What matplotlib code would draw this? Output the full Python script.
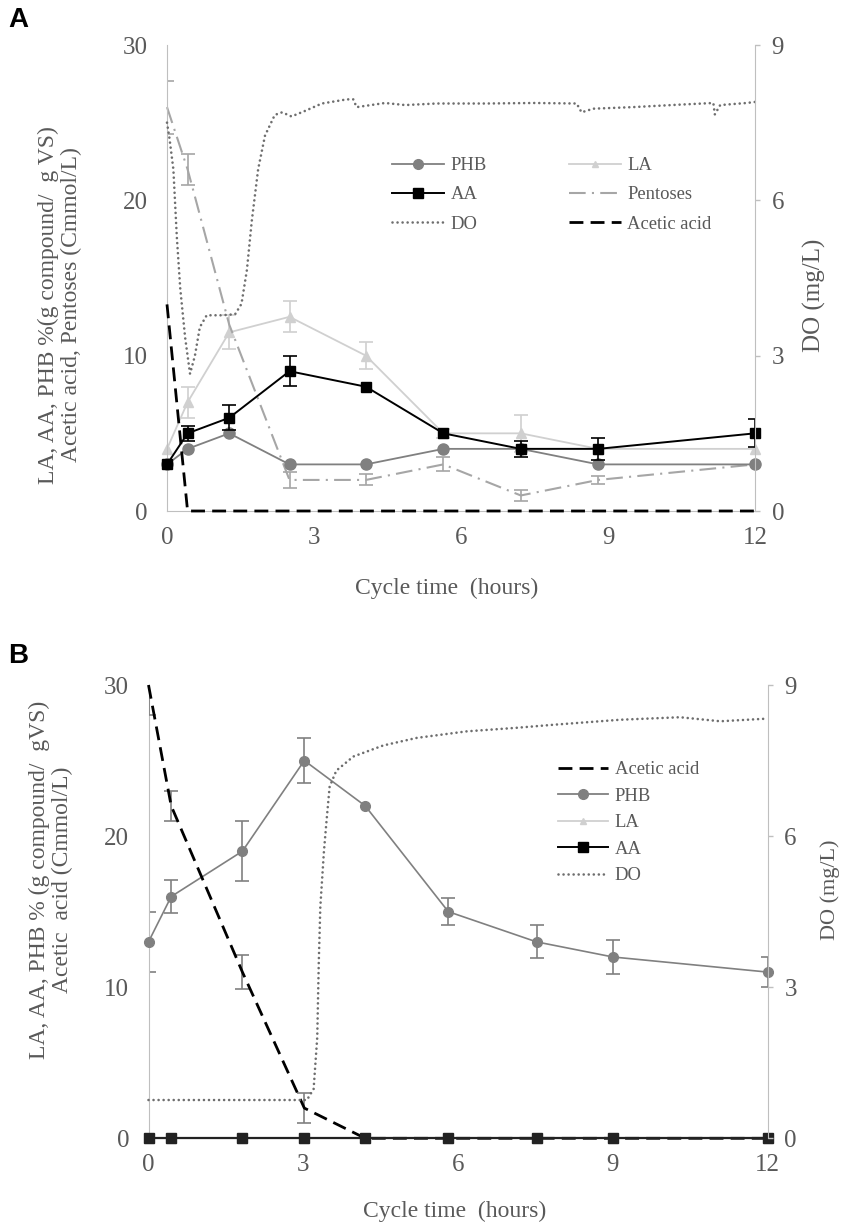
import matplotlib
matplotlib.use("Agg")
import matplotlib.pyplot as plt
from matplotlib.lines import Line2D

plt.rcParams["font.family"] = ["Liberation Serif", "DejaVu Serif"]

# ---- panel A data ----
time_a = [0, 0.42, 1.27, 2.5, 4.06, 5.64, 7.22, 8.8, 12]
phb_a = [3, 4, 5, 3, 3, 4, 4, 3, 3]
phb_a_err = [0, 0, 0, 0, 0, 0, 0, 0, 0]
aa_a = [3, 5, 6, 9, 8, 5, 4, 4, 5]
aa_a_err = [0, 0.5, 0.8, 0.95, 0, 0, 0.5, 0.7, 0.9]
la_a = [4, 7, 11.5, 12.5, 10, 5, 5, 4, 4]
la_a_err = [0, 1.0, 1.1, 1.0, 0.85, 0.3, 1.2, 0, 0]
pent_a = [26, 22, 12, 2, 2, 3, 1, 2, 3]
pent_a_err = [1.7, 1.0, 0, 0.5, 0.35, 0.45, 0.35, 0.25, 0]
acetic_a = [13.3, 0, 0, 0, 0, 0, 0, 0, 0]

do_time_a = [0, 0.05, 0.13, 0.2, 0.27, 0.37, 0.47, 0.57, 0.67, 0.81, 1.12, 1.39,
             1.52, 1.63, 1.73, 1.86, 2.0, 2.2, 2.35, 2.54, 2.8, 3.16, 3.67, 3.8,
             3.87, 4.45, 4.86, 5.5, 6.5, 7.5, 8.36, 8.46, 8.7, 9.5, 10.5, 11.15,
             11.18, 11.29, 11.83, 12]
do_a = [7.5, 7.2, 6.6, 5.3, 4.3, 3.35, 2.65, 3.0, 3.55, 3.78, 3.78, 3.8,
        4.0, 4.65, 5.6, 6.6, 7.25, 7.65, 7.7, 7.62, 7.72, 7.87, 7.95, 7.95,
        7.8, 7.88, 7.84, 7.87, 7.87, 7.88, 7.87, 7.7, 7.77, 7.8, 7.85, 7.88,
        7.66, 7.84, 7.88, 7.9]

# ---- panel B data ----
time_b = [0, 0.44, 1.82, 3.02, 4.2, 5.81, 7.52, 9.0, 12]
phb_b = [13, 16, 19, 25, 22, 15, 13, 12, 11]
phb_b_err = [2, 1.1, 2, 1.5, 0, 0.9, 1.1, 1.15, 1.0]
aa_b = [0, 0, 0, 0, 0, 0, 0, 0, 0]
la_b = [0, 0, 0, 0, 0, 0, 0, 0, 0]
acetic_b = [30, 22, 11, 2, 0, 0, 0, 0, 0]
acetic_b_err = [2, 1.0, 1.15, 1.0, 0, 0, 0, 0, 0]

do_time_b = [0, 1.0, 2.0, 3.07, 3.2, 3.27, 3.3, 3.33, 3.4, 3.45, 3.51, 3.64,
             3.97, 4.55, 5.2, 6.17, 7.13, 7.84, 9.14, 10.3, 11.08, 11.95, 12]
do_b = [0.76, 0.76, 0.76, 0.76, 0.98, 2.0, 3.5, 4.6, 5.7, 6.3, 6.98, 7.3,
        7.58, 7.8, 7.95, 8.08, 8.15, 8.21, 8.31, 8.36, 8.28, 8.33, 8.33]

TXT = "#595959"
SPINE = "#bfbfbf"
C_PHB = "#808080"
C_LA = "#d0d0d0"
C_PENT = "#a6a6a6"
C_DO = "#6e6e6e"
LS_PENT = (0, (8, 3, 1, 3))
LS_ACET = (0, (5, 2.6))
LS_DO = (0, (0.01, 1.9))


def series(ax, x, y, err, color, ls="-", marker=None, ms=7.5, lw=1.3, z=3):
    ax.plot(x, y, color=color, ls=ls, marker=marker, ms=ms, lw=lw,
            mec=color, mfc=color, clip_on=False, zorder=z,
            dash_capstyle="butt")
    pts = [(a, b, e) for a, b, e in zip(x, y, err) if e > 0]
    if pts:
        ex, ey, ee = zip(*pts)
        ax.errorbar(ex, ey, yerr=ee, fmt="none", ecolor=color, elinewidth=1.2,
                    capsize=5, capthick=1.2, zorder=z - 0.5)


def style_axes(ax, ax2):
    ax.set_xlim(0, 12)
    ax.set_ylim(0, 30)
    ax.set_xticks([0, 3, 6, 9, 12])
    ax.set_yticks([0, 10, 20, 30])
    ax2.set_ylim(0, 9)
    ax2.set_yticks([0, 3, 6, 9])
    for s in ["top", "right"]:
        ax.spines[s].set_visible(False)
    for s in ["left", "bottom"]:
        ax.spines[s].set_color(SPINE)
    for s in ["top", "left", "bottom"]:
        ax2.spines[s].set_visible(False)
    ax2.spines["right"].set_color(SPINE)
    ax.tick_params(axis="y", length=0, pad=14, labelsize=18, labelcolor=TXT)
    ax.tick_params(axis="x", length=0, pad=11.5, labelsize=18, labelcolor=TXT)
    ax2.tick_params(axis="y", length=3.5, width=1, color=SPINE, pad=8.5,
                    labelsize=18, labelcolor=TXT)


fig = plt.figure(figsize=(8.5, 12.28), dpi=100)
W, H = 850, 1228


def px_axes(l, t, r, b):
    return fig.add_axes([l / W, 1 - b / H, (r - l) / W, (b - t) / H])


# ---------------- Panel A ----------------
axA = px_axes(167, 45, 755, 511)
axA2 = axA.twinx()
style_axes(axA, axA2)

series(axA, time_a, la_a, la_a_err, C_LA, marker="^", ms=7.5, lw=1.3, z=2)
series(axA, time_a, pent_a, pent_a_err, C_PENT, ls=LS_PENT, lw=1.5, z=2.5)
series(axA, time_a, phb_a, phb_a_err, C_PHB, marker="o", ms=8, lw=1.3, z=3)
series(axA, time_a, aa_a, aa_a_err, "black", marker="s", ms=7.5, lw=1.4, z=4)
axA.plot(time_a, acetic_a, color="black", ls=LS_ACET, lw=2, zorder=5,
         clip_on=False)
axA2.plot(do_time_a, do_a, color=C_DO, ls=LS_DO, lw=1.9,
          dash_capstyle="round", clip_on=False)

h_phb = Line2D([], [], color=C_PHB, marker="o", ms=7, lw=1.3)
h_aa = Line2D([], [], color="black", marker="s", ms=7, lw=1.4)
h_do = Line2D([], [], color=C_DO, ls=LS_DO, lw=1.9, dash_capstyle="round")
h_la = Line2D([], [], color=C_LA, marker="^", ms=5, lw=1.3)
h_pent = Line2D([], [], color=C_PENT, ls=LS_PENT, lw=1.5)
h_acet = Line2D([], [], color="black", ls=LS_ACET, lw=2)
axA2.legend([h_phb, h_aa, h_do, h_la, h_pent, h_acet],
            ["PHB", "AA", "DO", "LA", "Pentoses", "Acetic acid"],
            ncol=2, loc="upper left", bbox_to_anchor=(392 / W, 1 - 157 / H),
            bbox_transform=fig.transFigure, frameon=False, fontsize=13.4,
            handlelength=2.8, handletextpad=0.35, columnspacing=4.4,
            labelspacing=0.66, borderpad=0, borderaxespad=0, labelcolor=TXT)

fig.text(60 / W, 1 - 305 / H,
         "LA, AA, PHB %(g compound/  g VS)\nAcetic acid, Pentoses (Cmmol/L)",
         rotation=90, ha="center", va="center", ma="center", fontsize=17,
         color=TXT, linespacing=1.1)
fig.text(814 / W, 1 - 295 / H, "DO (mg/L)", rotation=90, ha="center",
         va="center", fontsize=18, color=TXT)
fig.text(447 / W, 1 - 588 / H, "Cycle time  (hours)", ha="center", va="center",
         fontsize=17, color=TXT)
fig.text(18 / W, 1 - 20 / H, "A", ha="center", va="center", fontsize=20,
         fontweight="bold", family="Liberation Sans", color="black")

# ---------------- Panel B ----------------
axB = px_axes(148.5, 685, 767.7, 1138.3)
axB2 = axB.twinx()
style_axes(axB, axB2)

series(axB, time_b, la_b, [0] * len(time_b), C_LA, marker="^", ms=7, lw=1.3, z=2)
series(axB, time_b, phb_b, phb_b_err, C_PHB, marker="o", ms=7, lw=1.2, z=3)
series(axB, time_b, acetic_b, acetic_b_err, C_PHB, ls="none", z=3.5)
axB.plot(time_b, acetic_b, color="black", ls=LS_ACET, lw=2, zorder=4,
         clip_on=False)
series(axB, time_b, aa_b, [0] * len(time_b), "#222222", marker="s", ms=7.2,
       lw=1.6, z=5)
axB2.plot(do_time_b, do_b, color=C_DO, ls=LS_DO, lw=1.9,
          dash_capstyle="round", clip_on=False)

h_la_b = Line2D([], [], color=C_LA, marker="^", ms=5, lw=1.3)
h_aa_b = Line2D([], [], color="black", marker="s", ms=7, lw=1.4)
axB2.legend([h_acet, h_phb, h_la_b, h_aa_b, h_do],
            ["Acetic acid", "PHB", "LA", "AA", "DO"],
            loc="upper left", bbox_to_anchor=(558 / W, 1 - 761 / H),
            bbox_transform=fig.transFigure, frameon=False, fontsize=13.4,
            handlelength=2.7, handletextpad=0.35, labelspacing=0.51,
            borderpad=0, borderaxespad=0, labelcolor=TXT)

fig.text(51 / W, 1 - 880 / H,
         "LA, AA, PHB % (g compound/  gVS)\nAcetic  acid (Cmmol/L)",
         rotation=90, ha="center", va="center", ma="center", fontsize=17,
         color=TXT, linespacing=1.1)
fig.text(830 / W, 1 - 890 / H, "DO (mg/L)", rotation=90, ha="center",
         va="center", fontsize=16, color=TXT)
fig.text(455 / W, 1 - 1211 / H, "Cycle time  (hours)", ha="center",
         va="center", fontsize=17, color=TXT)
fig.text(18 / W, 1 - 656 / H, "B", ha="center", va="center", fontsize=20,
         fontweight="bold", family="Liberation Sans", color="black")

fig.savefig("out.png", dpi=100)
